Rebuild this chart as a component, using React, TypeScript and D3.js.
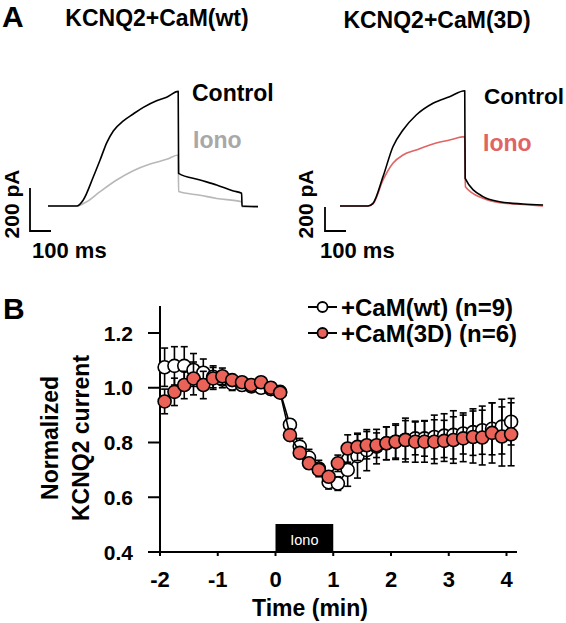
import React from "react";
import * as d3 from "d3";

// ---------- Panel A data (time in ms, current in pA) ----------
const wtControlT = [0, 138, 168, 216, 248, 280, 311, 359, 406, 454, 517, 565, 620, 622, 724, 803, 883, 922, 924, 1000];
const wtControlI = [0, 0, 28, 136, 214, 295, 349, 396, 428, 459, 490, 506, 533, 152, 121, 98, 70, 59, 0, -3];
const wtIonoT = [0, 137, 184, 248, 327, 406, 486, 565, 620, 622, 724, 803, 922, 924, 1000];
const wtIonoI = [0, 0, 20, 67, 121, 164, 195, 217, 237, 67, 50, 35, 20, -3, -3];

const dControlT = [0, 133, 157, 205, 252, 300, 363, 443, 522, 594, 596, 681, 760, 871, 967];
const dControlI = [0, 0, 22, 245, 494, 633, 758, 856, 911, 961, 231, 78, 36, 17, 8];
const dIonoT = [0, 133, 157, 205, 252, 300, 363, 443, 522, 594, 597, 681, 760, 838, 967];
const dIonoI = [0, 0, 17, 217, 356, 425, 467, 517, 550, 578, 161, 64, 28, 17, 0];

// ---------- Panel B data ----------
const times = [
  -1.92, -1.75, -1.58, -1.42, -1.25, -1.08, -0.92, -0.75, -0.58, -0.42, -0.25, -0.08,
  0.08, 0.25, 0.42, 0.58, 0.75, 0.92, 1.08, 1.25, 1.42, 1.58, 1.75, 1.92,
  2.08, 2.25, 2.42, 2.58, 2.75, 2.92, 3.08, 3.25, 3.42, 3.58, 3.75, 3.92, 4.08,
];
const wtMean = [
  1.075, 1.08, 1.08, 1.065, 1.055, 1.04, 1.03, 1.015, 1.01, 1.005, 1.0, 0.995,
  0.985, 0.865, 0.785, 0.745, 0.705, 0.655, 0.65, 0.7, 0.75, 0.772, 0.785, 0.797,
  0.803, 0.81, 0.815, 0.815, 0.82, 0.825, 0.828, 0.833, 0.838, 0.845, 0.85, 0.858, 0.876,
];
const wtSem = [
  0.07, 0.07, 0.07, 0.06, 0.05, 0.04, 0.03, 0.025, 0.02, 0.02, 0.02, 0.02,
  0.02, 0.02, 0.03, 0.03, 0.03, 0.025, 0.025, 0.06, 0.08, 0.075, 0.063, 0.06,
  0.06, 0.07, 0.06, 0.065, 0.08, 0.08, 0.088, 0.075, 0.085, 0.088, 0.095, 0.1, 0.085,
];
const d3Mean = [
  0.95, 0.985, 1.01, 1.034, 1.01, 1.034, 1.042, 1.028, 1.02, 1.01, 1.02, 1.0,
  0.982, 0.827, 0.762, 0.724, 0.7, 0.675, 0.724, 0.778, 0.784, 0.79, 0.79, 0.797,
  0.803, 0.809, 0.803, 0.803, 0.803, 0.806, 0.809, 0.815, 0.82, 0.818, 0.835, 0.822, 0.83,
];
const d3Sem = [
  0.045, 0.05, 0.05, 0.06, 0.05, 0.04, 0.03, 0.02, 0.02, 0.02, 0.02, 0.02,
  0.02, 0.02, 0.02, 0.02, 0.02, 0.02, 0.03, 0.05, 0.05, 0.05, 0.045, 0.06,
  0.065, 0.08, 0.075, 0.075, 0.08, 0.075, 0.085, 0.085, 0.095, 0.1, 0.11, 0.108, 0.115,
];
const xTicks = [-2, -1, 0, 1, 2, 3, 4];
const yTicks = [0.4, 0.6, 0.8, 1.0, 1.2];
const legendLabels = ["+CaM(wt) (n=9)", "+CaM(3D) (n=6)"];

const FONT = "'Liberation Sans', Arial, Helvetica, sans-serif";
const RED = "#EA6258";
const TRACE_RED = "#E06464";
const GRAY = "#B8B8B8";

function zip(t: number[], v: number[]): [number, number][] {
  return t.map((d, i) => [d, v[i]] as [number, number]);
}

function Trace({ t, v, xs, ys, color }: any) {
  const line = d3
    .line<[number, number]>()
    .x((d) => xs(d[0]))
    .y((d) => ys(d[1]))
    .curve(d3.curveMonotoneX);
  return <path d={line(zip(t, v)) || ""} fill="none" stroke={color} strokeWidth={1.6} strokeLinejoin="round" />;
}

function Series({ mean, sem, xs, ys, fill, r }: any) {
  const pts = zip(times, mean);
  const line = d3
    .line<[number, number]>()
    .x((d) => xs(d[0]))
    .y((d) => ys(d[1]));
  return (
    <g>
      {times.map((t: number, i: number) => {
        const x = xs(t);
        const y1 = ys(mean[i] + sem[i]);
        const y2 = ys(mean[i] - sem[i]);
        return (
          <g key={i} stroke="#000" strokeWidth={1.6}>
            <line x1={x} x2={x} y1={y1} y2={y2} />
            <line x1={x - 3.5} x2={x + 3.5} y1={y1} y2={y1} />
            <line x1={x - 3.5} x2={x + 3.5} y1={y2} y2={y2} />
          </g>
        );
      })}
      <path d={line(pts) || ""} fill="none" stroke="#000" strokeWidth={1.6} />
      {pts.map((d, i) => (
        <circle key={i} cx={xs(d[0])} cy={ys(d[1])} r={r} fill={fill} stroke="#000" strokeWidth={1.6} />
      ))}
    </g>
  );
}

export default function App() {
  // Panel A scales
  const xL = d3.scaleLinear().domain([0, 100]).range([48, 69]);
  const yL = d3.scaleLinear().domain([0, 200]).range([206, 163]);
  const xR = d3.scaleLinear().domain([0, 100]).range([340, 361]);
  const yR = d3.scaleLinear().domain([0, 200]).range([206, 182]);

  // Panel B scales
  const xs = d3.scaleLinear().domain([-2, 4]).range([160, 506.5]);
  const ys = d3.scaleLinear().domain([0.4, 1.2]).range([552, 333]);

  const bold = { fontFamily: FONT, fontWeight: "bold" as const };

  // scale bars: 100 ms x 200 pA, anchored at lower-left corner
  const barL = { x: 30, y: 231 };
  const barR = { x: 325, y: 231 };
  const lenL = { h: xL(100) - xL(0), v: yL(0) - yL(200) };
  const lenR = { h: xR(100) - xR(0), v: yR(0) - yR(200) };

  return (
    <svg width={566} height={623} style={{ position: "absolute", left: 0, top: 0, background: "#fff" }}>
      <rect width={566} height={623} fill="#fff" />
      {/* Panel labels */}
      <text x={2} y={27} fontSize={30} {...bold}>A</text>
      <text x={3} y={319} fontSize={30} {...bold}>B</text>

      {/* Panel A titles */}
      <text x={157} y={26} fontSize={23} textAnchor="middle" {...bold}>KCNQ2+CaM(wt)</text>
      <text x={437} y={28} fontSize={23} textAnchor="middle" {...bold}>KCNQ2+CaM(3D)</text>

      {/* Panel A left traces */}
      <Trace t={wtIonoT} v={wtIonoI} xs={xL} ys={yL} color={GRAY} />
      <Trace t={wtControlT} v={wtControlI} xs={xL} ys={yL} color="#000" />
      <text x={192} y={101} fontSize={23} {...bold}>Control</text>
      <text x={193} y={148} fontSize={23} fill="#A8A8A8" {...bold}>Iono</text>
      <path
        d={`M${barL.x},${barL.y - lenL.v} L${barL.x},${barL.y} L${barL.x + lenL.h},${barL.y}`}
        fill="none" stroke="#000" strokeWidth={1.8}
      />
      <text x={32} y={258} fontSize={22} {...bold}>100 ms</text>
      <text transform="translate(19,204) rotate(-90)" textAnchor="middle" fontSize={21} {...bold}>200 pA</text>

      {/* Panel A right traces */}
      <Trace t={dIonoT} v={dIonoI} xs={xR} ys={yR} color={TRACE_RED} />
      <Trace t={dControlT} v={dControlI} xs={xR} ys={yR} color="#000" />
      <text x={484} y={104} fontSize={22.5} {...bold}>Control</text>
      <text x={483} y={151} fontSize={23} fill={TRACE_RED} {...bold}>Iono</text>
      <path
        d={`M${barR.x},${barR.y - lenR.v} L${barR.x},${barR.y} L${barR.x + lenR.h},${barR.y}`}
        fill="none" stroke="#000" strokeWidth={1.8}
      />
      <text x={320} y={258} fontSize={22} {...bold}>100 ms</text>
      <text transform="translate(313,204) rotate(-90)" textAnchor="middle" fontSize={21} {...bold}>200 pA</text>

      {/* Panel B axes */}
      <line x1={160} x2={160} y1={306} y2={555} stroke="#000" strokeWidth={2} />
      <line x1={148} x2={517} y1={552} y2={552} stroke="#000" strokeWidth={2} />
      {yTicks.map((v) => (
        <g key={v}>
          <line x1={148} x2={160} y1={ys(v)} y2={ys(v)} stroke="#000" strokeWidth={2} />
          <text x={133} y={ys(v)} dy="0.36em" textAnchor="end" fontSize={21} {...bold}>
            {v.toFixed(1)}
          </text>
        </g>
      ))}
      {xTicks.map((v) => (
        <g key={v}>
          <line x1={xs(v)} x2={xs(v)} y1={552} y2={556} stroke="#000" strokeWidth={2} />
          <text x={xs(v)} y={587} textAnchor="middle" fontSize={22} {...bold}>{String(v)}</text>
        </g>
      ))}
      <text x={310} y={616} textAnchor="middle" fontSize={23} {...bold}>Time (min)</text>
      <text transform="translate(58,438) rotate(-90)" textAnchor="middle" fontSize={23} {...bold}>Normalized</text>
      <text transform="translate(89,438) rotate(-90)" textAnchor="middle" fontSize={23} {...bold}>KCNQ2 current</text>

      {/* Iono bar */}
      <rect x={xs(0)} y={524} width={xs(1) - xs(0)} height={28} fill="#000" />
      <text x={(xs(0) + xs(1)) / 2} y={545} textAnchor="middle" fontSize={14.5} fill="#fff" fontFamily={FONT}>Iono</text>

      {/* Data */}
      <Series mean={wtMean} sem={wtSem} xs={xs} ys={ys} fill="#fff" r={6.5} />
      <Series mean={d3Mean} sem={d3Sem} xs={xs} ys={ys} fill={RED} r={6.5} />

      {/* Legend */}
      {legendLabels.map((lab, i) => {
        const y = 307 + i * 26;
        return (
          <g key={lab}>
            <line x1={308} x2={337} y1={y} y2={y} stroke="#000" strokeWidth={2} />
            <circle cx={322.5} cy={y} r={5} fill={i === 0 ? "#fff" : RED} stroke="#000" strokeWidth={1.8} />
            <text x={341} y={y} dy="0.36em" fontSize={24} {...bold}>{lab}</text>
          </g>
        );
      })}
    </svg>
  );
}
